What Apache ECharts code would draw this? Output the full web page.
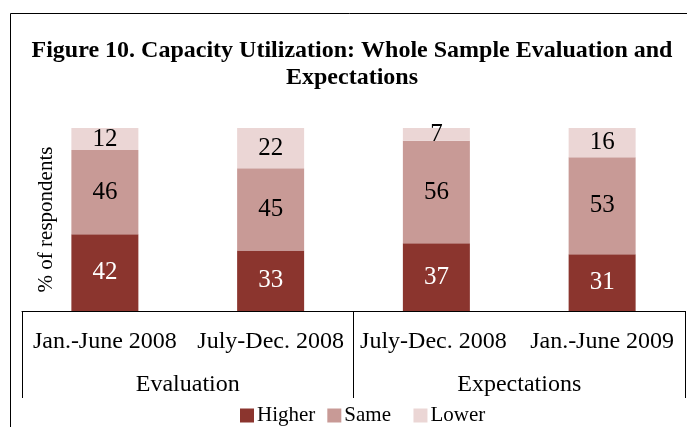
<!DOCTYPE html>
<html>
<head>
<meta charset="utf-8">
<script src="https://cdn.jsdelivr.net/npm/echarts@6/dist/echarts.min.js"></script>
<style>html,body{margin:0;padding:0;background:#fff;}#c{width:687px;height:427px;}</style>
</head>
<body>
<div id="c"></div>
<script>
const categories = ['Jan.-June 2008', 'July-Dec. 2008', 'July-Dec. 2008 ', 'Jan.-June 2009'];
const groups = ['Evaluation', 'Expectations'];
const higher = [42, 33, 37, 31];
const same = [46, 45, 56, 53];
const lower = [12, 22, 7, 16];

const FONT = '"Liberation Serif", "Times New Roman", serif';
const chart = echarts.init(document.getElementById('c'), null, {renderer: 'canvas'});
function series(name, data, color, labelColor) {
  return {
    name: name, type: 'bar', stack: 'total', data: data, barWidth: 67,
    xAxisIndex: 0,
    itemStyle: {color: color},
    label: {show: true, position: 'inside', color: labelColor, fontFamily: FONT, fontSize: 25},
    emphasis: {disabled: true}
  };
}
chart.setOption({
  animation: false,
  backgroundColor: '#fff',
  title: {
    text: 'Figure 10. Capacity Utilization: Whole Sample Evaluation and\nExpectations',
    left: 347, textAlign: 'center', top: 32,
    textStyle: {fontFamily: FONT, fontWeight: 'bold', fontSize: 24, lineHeight: 27, color: '#000'}
  },
  legend: {
    top: 400, left: 235, itemWidth: 14, itemHeight: 14, itemGap: 12, icon: 'rect',
    textStyle: {fontFamily: FONT, fontSize: 21, color: '#000', padding: [0, 0, 0, -2]},
    formatter: function (n) { return n === 'Same' ? 'Same  ' : n; },
    data: ['Higher', 'Same', 'Lower']
  },
  grid: {left: 22, right: 2, top: 128, bottom: 116},
  xAxis: [{
    type: 'category', data: categories, position: 'bottom',
    axisLine: {show: true, lineStyle: {color: '#000', width: 1}},
    axisTick: {show: false},
    axisLabel: {fontFamily: FONT, fontSize: 24, color: '#000', margin: 19, interval: 0}
  }, {
    type: 'category', data: groups, position: 'bottom',
    axisLine: {show: false},
    axisTick: {show: true, length: 87, lineStyle: {color: '#000', width: 1}},
    axisLabel: {fontFamily: FONT, fontSize: 24, color: '#000', margin: 62, interval: 0},
    boundaryGap: true
  }],
  yAxis: {
    type: 'value', min: 0, max: 100,
    name: '% of respondents', nameLocation: 'middle', nameGap: -35,
    nameTextStyle: {fontFamily: FONT, fontSize: 21, color: '#000'},
    axisLine: {show: false}, axisTick: {show: false}, axisLabel: {show: false},
    splitLine: {show: false}
  },
  graphic: [{
    type: 'rect', shape: {x: 10.5, y: 13.5, width: 700, height: 500},
    style: {fill: 'none', stroke: '#000', lineWidth: 1}, silent: true
  }],
  series: [
    series('Higher', higher, '#8B352E', '#fff'),
    series('Same', same, '#C89A96', '#000'),
    series('Lower', lower, '#EBD6D5', '#000')
  ]
});
</script>
</body>
</html>
